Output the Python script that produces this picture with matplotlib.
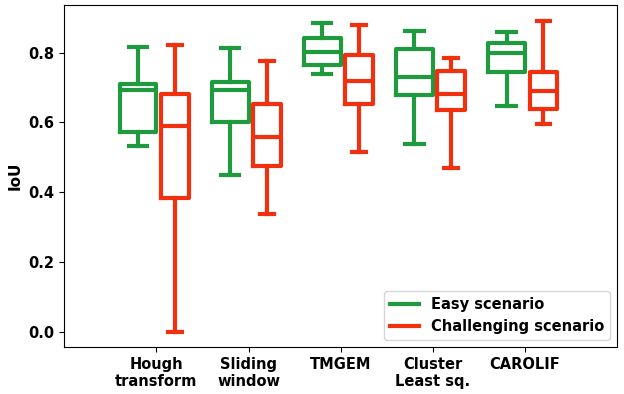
import matplotlib
matplotlib.use("Agg")
import matplotlib.pyplot as plt
from matplotlib.lines import Line2D

categories = ["Hough\ntransform", "Sliding\nwindow", "TMGEM", "Cluster\nLeast sq.", "CAROLIF"]

# [whislo, q1, median, q3, whishi]
easy = [
    [0.533, 0.573, 0.694, 0.711, 0.817],
    [0.450, 0.601, 0.694, 0.716, 0.813],
    [0.739, 0.766, 0.803, 0.843, 0.884],
    [0.539, 0.680, 0.731, 0.810, 0.862],
    [0.648, 0.744, 0.798, 0.827, 0.859],
]
challenging = [
    [0.000, 0.383, 0.590, 0.681, 0.822],
    [0.338, 0.475, 0.558, 0.653, 0.776],
    [0.515, 0.652, 0.719, 0.793, 0.880],
    [0.470, 0.637, 0.681, 0.748, 0.784],
    [0.595, 0.638, 0.691, 0.744, 0.892],
]

green = "#1f9a3e"
red = "#f0300f"

def stats(rows):
    return [dict(whislo=r[0], q1=r[1], med=r[2], q3=r[3], whishi=r[4], fliers=[]) for r in rows]

fig = plt.figure(figsize=(6.24, 3.94), dpi=100)
ax = fig.add_axes([0.103, 0.119, 0.886, 0.868])

pos = list(range(1, len(categories) + 1))
for data, col, off, w in [(easy, green, -0.2, 0.4), (challenging, red, 0.2, 0.3)]:
    props = dict(color=col, linewidth=3)
    ax.bxp(stats(data), positions=[p + off for p in pos], widths=w,
           boxprops=props, whiskerprops=props, capprops=props,
           medianprops=props, showfliers=False, manage_ticks=False)

ax.set_xlim(0, 6)
ax.set_xticks(pos)
ax.set_xticklabels(categories, fontsize=10.5, fontweight="bold")
ax.set_yticks([0.0, 0.2, 0.4, 0.6, 0.8])
ax.set_yticklabels(["0.0", "0.2", "0.4", "0.6", "0.8"], fontsize=10.5, fontweight="bold")
ax.set_ylabel("IoU", fontsize=11, fontweight="bold")

handles = [Line2D([], [], color=green, lw=3), Line2D([], [], color=red, lw=3)]
ax.legend(handles, ["Easy scenario", "Challenging scenario"], loc="lower right",
          prop=dict(weight="bold", size=10.5))

fig.savefig("out.png", dpi=100)
